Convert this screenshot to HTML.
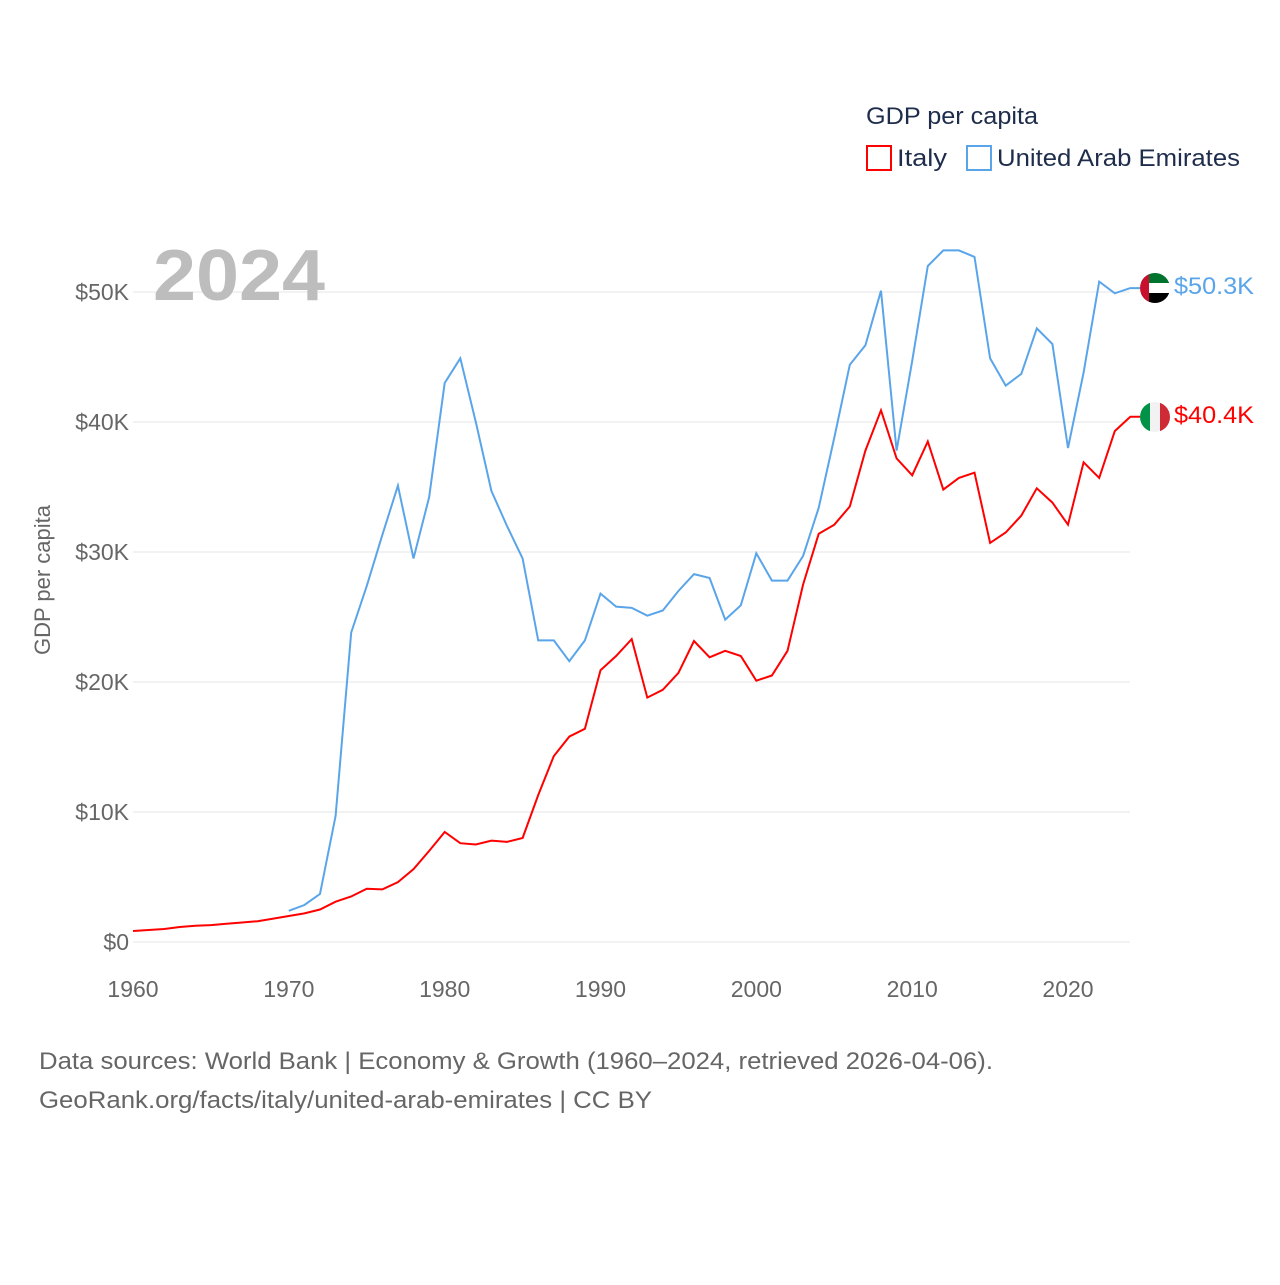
<!DOCTYPE html>
<html><head><meta charset="utf-8"><style>
body{margin:0;background:#fff;font-family:"Liberation Sans",sans-serif}
svg text{font-family:"Liberation Sans",sans-serif}
</style></head><body>
<svg id="chart" width="1280" height="1280" viewBox="0 0 1280 1280">
<defs>
<clipPath id="cu"><circle cx="1155" cy="288" r="15"/></clipPath>
<clipPath id="ci"><circle cx="1155" cy="417" r="15"/></clipPath>
</defs>
<g id="grid"></g>
<g id="yticks"></g>
<g id="xticks"></g>
<text x="153" y="300" font-size="72" font-weight="bold" fill="#bdbdbd" textLength="172" lengthAdjust="spacingAndGlyphs">2024</text>
<text transform="translate(50,580) rotate(-90)" text-anchor="middle" font-size="22" fill="#666">GDP per capita</text>
<text x="866" y="124" font-size="24" fill="#1f2d4d" textLength="172" lengthAdjust="spacingAndGlyphs">GDP per capita</text>
<g><rect x="867" y="146" width="24" height="24" fill="none" stroke="#f00" stroke-width="2"/><text x="897" y="166" font-size="24" fill="#1f2d4d" textLength="50" lengthAdjust="spacingAndGlyphs">Italy</text></g>
<g><rect x="967" y="146" width="24" height="24" fill="none" stroke="#5aa5ea" stroke-width="2"/><text x="997" y="166" font-size="24" fill="#1f2d4d" textLength="243" lengthAdjust="spacingAndGlyphs">United Arab Emirates</text></g>
<path id="uae" fill="none" stroke="#5aa5ea" stroke-width="2"/>
<path id="ita" fill="none" stroke="#f00" stroke-width="2"/>
<g clip-path="url(#cu)">
<rect x="1140" y="273" width="30" height="10" fill="#00732f"/><rect x="1140" y="283" width="30" height="10" fill="#fff"/><rect x="1140" y="293" width="30" height="10" fill="#000"/><rect x="1140" y="273" width="9" height="30" fill="#c8102e"/></g>
<g clip-path="url(#ci)">
<rect x="1140" y="402" width="10" height="30" fill="#009246"/><rect x="1150" y="402" width="10" height="30" fill="#f1f2f1"/><rect x="1160" y="402" width="10" height="30" fill="#ce2b37"/></g>
<text x="1174" y="294" font-size="24" fill="#5aa5ea" textLength="80" lengthAdjust="spacingAndGlyphs">$50.3K</text>
<text x="1174" y="423" font-size="24" fill="#f00" textLength="80" lengthAdjust="spacingAndGlyphs">$40.4K</text>
<text x="39" y="1069" font-size="24" fill="#666" textLength="954" lengthAdjust="spacingAndGlyphs">Data sources: World Bank | Economy &amp; Growth (1960–2024, retrieved 2026-04-06).</text>
<text x="39" y="1108" font-size="24" fill="#666" textLength="613" lengthAdjust="spacingAndGlyphs">GeoRank.org/facts/italy/united-arab-emirates | CC BY</text>
</svg>
<script>
const italyStart = 1960;
const italyValues = [0.85,0.92,1.0,1.15,1.25,1.3,1.4,1.5,1.6,1.8,2.0,2.2,2.5,3.1,3.5,4.1,4.05,4.6,5.6,7.0,8.46,7.6,7.5,7.8,7.7,8.0,11.3,14.3,15.8,16.4,20.9,22.0,23.3,18.8,19.4,20.7,23.15,21.9,22.4,22.0,20.1,20.5,22.4,27.5,31.4,32.1,33.5,37.8,40.9,37.2,35.9,38.5,34.8,35.7,36.1,30.7,31.5,32.8,34.9,33.8,32.1,36.9,35.7,39.3,40.4];
const uaeStart = 1970;
const uaeValues = [2.4,2.85,3.7,9.7,23.8,27.4,31.3,35.1,29.5,34.2,43.0,44.9,40.0,34.7,32.0,29.5,23.2,23.2,21.6,23.2,26.8,25.8,25.7,25.1,25.5,27.0,28.3,28.0,24.8,25.9,29.9,27.8,27.8,29.7,33.4,38.8,44.4,45.9,50.1,37.8,44.7,52.0,53.2,53.2,52.7,44.9,42.8,43.7,47.2,46.0,38.0,43.8,50.8,49.9,50.3];
const yTicks = [0,10,20,30,40,50];
const yTickLabels = ["$0","$10K","$20K","$30K","$40K","$50K"];
const xTicks = [1960,1970,1980,1990,2000,2010,2020];
const X = yr => 133 + (yr - 1960) * (1068 - 133) / 60;
const Y = v => 942 - v * 13;
const NS = "http://www.w3.org/2000/svg";
const grid = document.getElementById('grid'), yt = document.getElementById('yticks'), xt = document.getElementById('xticks');
yTicks.forEach((v, i) => {
  const l = document.createElementNS(NS, 'line');
  l.setAttribute('x1', 133); l.setAttribute('x2', 1130);
  l.setAttribute('y1', Y(v)); l.setAttribute('y2', Y(v));
  l.setAttribute('stroke', '#e6e6e6'); l.setAttribute('stroke-width', 1);
  
  
  grid.appendChild(l);
  const t = document.createElementNS(NS, 'text');
  t.setAttribute('x', 129); t.setAttribute('y', Y(v) + 8);
  t.setAttribute('text-anchor', 'end'); t.setAttribute('font-size', '23'); t.setAttribute('fill', '#666');
  t.textContent = yTickLabels[i];
  
  
  yt.appendChild(t);
});
xTicks.forEach(yr => {
  const t = document.createElementNS(NS, 'text');
  t.setAttribute('x', X(yr)); t.setAttribute('y', 997);
  t.setAttribute('text-anchor', 'middle'); t.setAttribute('font-size', '23'); t.setAttribute('fill', '#666');
  t.textContent = yr;
  
  
  xt.appendChild(t);
});
const path = (start, vals) => vals.map((v, i) => (i ? 'L' : 'M') + X(start + i).toFixed(1) + ',' + Y(v).toFixed(1)).join(' ');
document.getElementById('ita').setAttribute('d', path(italyStart, italyValues) + ' L1140,' + Y(italyValues[italyValues.length-1]));
document.getElementById('uae').setAttribute('d', path(uaeStart, uaeValues) + ' L1140,' + Y(uaeValues[uaeValues.length-1]));
</script>
</body></html>
